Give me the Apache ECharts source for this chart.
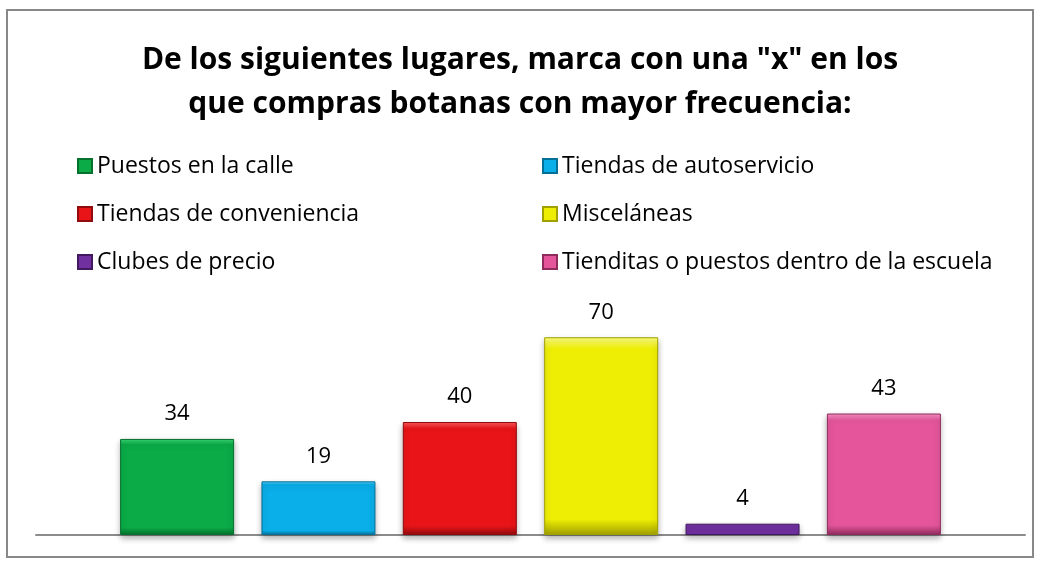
<!DOCTYPE html>
<html>
<head>
<meta charset="utf-8">
<script src="https://cdn.jsdelivr.net/npm/echarts@6/dist/echarts.min.js"></script>
<style>
  html, body { margin: 0; padding: 0; background: #fff; }
  #chart { width: 1040px; height: 565px; }
</style>
</head>
<body>
<div id="chart"></div>
<script>
const lugares = [
  'Puestos en la calle',
  'Tiendas de autoservicio',
  'Tiendas de conveniencia',
  'Misceláneas',
  'Clubes de precio',
  'Tienditas o puestos dentro de la escuela',
]
const valores = [34, 19, 40, 70, 4, 43]
// light, main, dark
const colores = [
  ['#3ad674', '#0bab47', '#06702d'],
  ['#5fd2ff', '#0aaee8', '#066f96'],
  ['#ff5a5a', '#e81418', '#8f0b0d'],
  ['#ffff80', '#eeee05', '#a0a000'],
  ['#a970d4', '#7030a0', '#42185f'],
  ['#f892c4', '#e4559b', '#8e2d5d'],
]

const fuente = 'Open Sans'
const chart = echarts.init(document.getElementById('chart'))

const series = lugares.map((name, i) => ({
  name,
  type: 'bar',
  data: [valores[i]],
  barWidth: 114,
  barGap: '24%',
  itemStyle: {
    color: new echarts.graphic.LinearGradient(0, 0, 0, 1, [
      { offset: 0, color: colores[i][0] },
      { offset: 0.06, color: colores[i][1] },
      { offset: 0.92, color: colores[i][1] },
      { offset: 1, color: colores[i][2] },
    ]),
    borderColor: colores[i][2],
    borderWidth: 1,
    shadowColor: 'rgba(0,0,0,0.3)',
    shadowBlur: 6,
    shadowOffsetY: 3,
  },
  label: {
    show: true,
    position: 'top',
    distance: 14,
    fontFamily: fuente,
    fontSize: 22,
    color: '#000',
  },
}))

const legendItem = {
  icon: 'rect',
  itemWidth: 14,
  itemHeight: 14,
  itemGap: 24,
  orient: 'vertical',
  textStyle: { fontFamily: fuente, fontSize: 23, color: '#000', lineHeight: 24 },
}

chart.setOption({
  animation: false,
  title: {
    text: 'De los siguientes lugares, marca con una "x" en los\nque compras botanas con mayor frecuencia:',
    left: 'center',
    top: 33,
    textStyle: {
      fontFamily: fuente,
      fontWeight: 'bold',
      fontSize: 30,
      lineHeight: 44,
      color: '#000',
    },
  },
  legend: [
    Object.assign({}, legendItem, {
      left: 72,
      top: 149,
      data: [lugares[0], lugares[2], lugares[4]],
    }),
    Object.assign({}, legendItem, {
      left: 537,
      top: 149,
      data: [lugares[1], lugares[3], lugares[5]],
    }),
  ],
  grid: { left: 36, right: 15, top: 309, bottom: 30 },
  xAxis: {
    type: 'category',
    data: [''],
    axisLine: { lineStyle: { color: '#8c8c8c', width: 2 } },
    axisTick: { show: false },
    axisLabel: { show: false },
  },
  yAxis: {
    type: 'value',
    min: 0,
    max: 80,
    show: false,
  },
  series,
  graphic: [
    {
      type: 'rect',
      shape: { x: 7, y: 10, width: 1026, height: 547 },
      style: { fill: 'none', stroke: '#888', lineWidth: 2 },
      silent: true,
    },
  ],
})
</script>
</body>
</html>
